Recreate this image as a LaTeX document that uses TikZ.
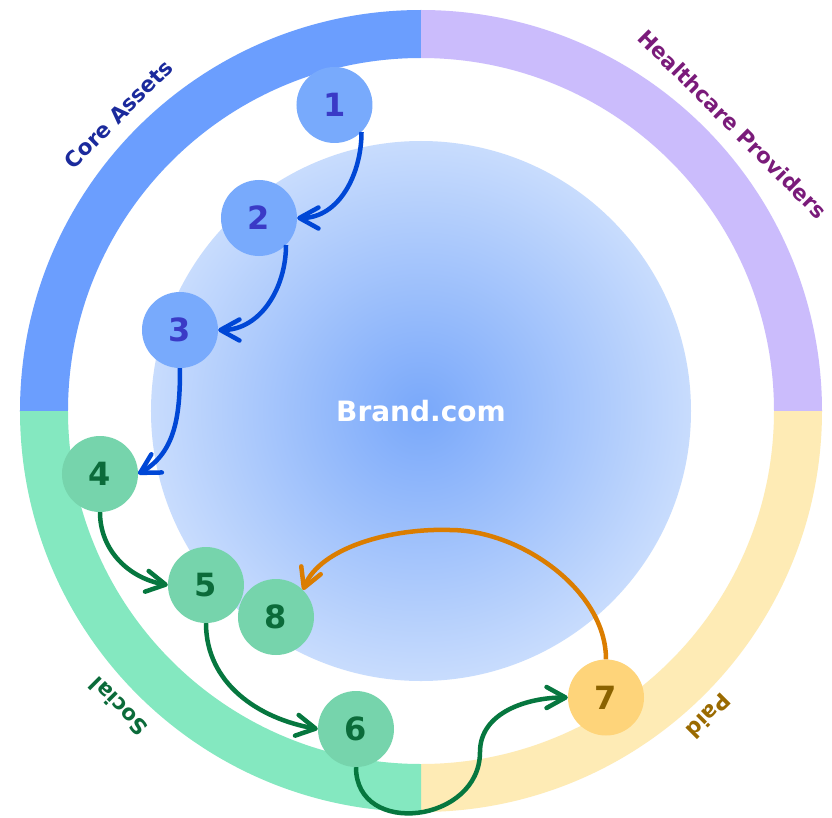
\documentclass[tikz,border=0pt]{standalone}
\usepackage{fontspec}
\setmainfont{DejaVu Sans}
\usetikzlibrary{arrows.meta}
\definecolor{ringblue}{HTML}{6B9EFE}
\definecolor{ringlav}{HTML}{CBBCFC}
\definecolor{ringgreen}{HTML}{84E8C0}
\definecolor{ringyellow}{HTML}{FEEBB5}
\definecolor{cin}{HTML}{79A8FA}
\definecolor{cout}{HTML}{C8DCFD}
\definecolor{nblue}{HTML}{78AAFC}
\definecolor{tblue}{HTML}{3A3AC6}
\definecolor{ngreen}{HTML}{76D4AC}
\definecolor{tgreen}{HTML}{0B6B3A}
\definecolor{nyellow}{HTML}{FED47A}
\definecolor{tyellow}{HTML}{8A6200}
\definecolor{arrblue}{HTML}{0047D6}
\definecolor{arrgreen}{HTML}{06773F}
\definecolor{arrorange}{HTML}{DB7D00}
\definecolor{corecol}{HTML}{1B2A9C}
\definecolor{hccol}{HTML}{7A1B7A}
\definecolor{socialcol}{HTML}{0B6B3A}
\definecolor{paidcol}{HTML}{9A6A00}
\tikzset{
  num/.style={circle, minimum size=76pt, inner sep=0pt, font=\bfseries\fontsize{32}{36}\selectfont},
  bnode/.style={num, fill=nblue, text=tblue},
  gnode/.style={num, fill=ngreen, text=tgreen},
  ynode/.style={num, fill=nyellow, text=tyellow},
  conn/.style={line width=4.5pt, -{Straight Barb[length=19pt,width=21pt,round]}},
  ringlabel/.style={inner sep=0pt, font=\bfseries\fontsize{21.5}{24}\selectfont},
}
\newcommand{\quadrant}[3]{\fill[#1] (#2:401pt) arc[start angle=#2, end angle=#3, radius=401pt] -- (#3:353pt) arc[start angle=#3, end angle=#2, radius=353pt] -- cycle;}
\begin{document}
\begin{tikzpicture}[x=1pt,y=1pt]
\useasboundingbox (-421,-406) rectangle (411,411);
\fill[white] (-421,-406) rectangle (411,411);
% ring
\quadrant{ringblue}{180}{90}
\quadrant{ringlav}{90}{0}
\quadrant{ringyellow}{0}{-90}
\quadrant{ringgreen}{270}{180}
% centre
\shade[inner color=cin, outer color=cout] (0,0) circle[radius=270pt];
\node[text=white, font=\bfseries\fontsize{28}{32}\selectfont] (brand) at (0,0) {Brand.com};
% ring labels
\node[ringlabel, text=corecol, rotate=45] (lcore) at (-302.5,297) {Core Assets};
\node[ringlabel, text=hccol, rotate=-45] (lhc) at (312,287) {Healthcare Providers};
\node[ringlabel, text=socialcol, rotate=135] (lsoc) at (-302.5,-295.5) {Social};
\node[ringlabel, text=paidcol, rotate=225] (lpaid) at (287.5,-305) {Paid};
% nodes
\node[bnode] (n1) at (-86.5,306) {1};
\node[bnode] (n2) at (-162,193) {2};
\node[bnode] (n3) at (-241,81) {3};
\node[gnode] (n4) at (-321,-63) {4};
\node[gnode] (n5) at (-215,-174) {5};
\node[gnode] (n8) at (-145,-206) {8};
\node[gnode] (n6) at (-65,-318) {6};
\node[ynode] (n7) at (185,-286.5) {7};
% helper coordinates
\coordinate (m) at (59,-341);
\coordinate (otop) at (29,-119);
% connectors
\draw[conn, arrblue] (n1.-45) to[out=-90, in=0] (n2.east);
\draw[conn, arrblue] (n2.-45) to[out=-90, in=0] (n3.east);
\draw[conn, arrblue] (n3.south) to[out=-90, in=30] (n4.east);
\draw[conn, arrgreen] (n4.south) to[out=-90, in=170] (n5.west);
\draw[conn, arrgreen] (n5.south) to[out=-90, in=170] (n6.west);
\draw[conn, arrgreen] (n6.south) .. controls (-65,-427) and (59,-412) .. (m) .. controls (59,-301) and (107,-286.5) .. (n7.west);
\draw[conn, arrorange] (n7.north) .. controls (185,-179) and (99,-119) .. (otop) .. controls (-31,-117) and (-101,-137) .. (n8.45);
\end{tikzpicture}
\end{document}
